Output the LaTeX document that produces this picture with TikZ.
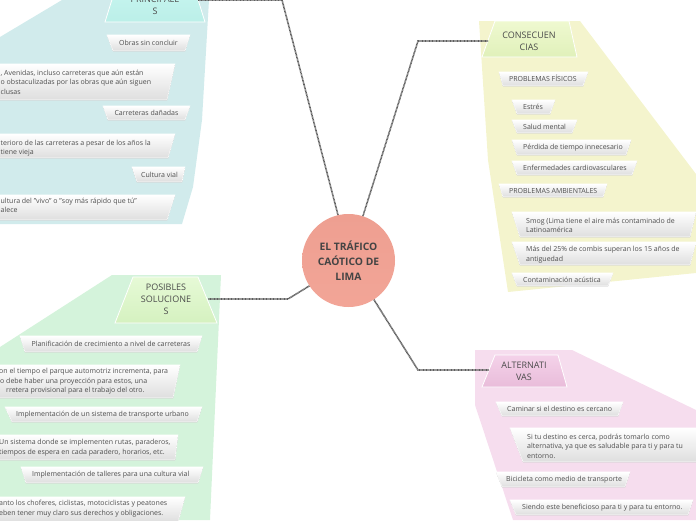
\documentclass[tikz,border=0pt]{standalone}
\usepackage{fontspec}
\setmainfont{Open Sans}
\definecolor{cyanbg}{HTML}{D1EBEC}
\definecolor{cyantopA}{HTML}{CBF7F2}
\definecolor{cyantopB}{HTML}{BBEFE8}
\definecolor{greenbg}{HTML}{D4F3DB}
\definecolor{greentopA}{HTML}{E6FAD6}
\definecolor{greentopB}{HTML}{D5F1C0}
\definecolor{yellowbg}{HTML}{F4F4CD}
\definecolor{yellowtopA}{HTML}{EFF9D0}
\definecolor{yellowtopB}{HTML}{E0F0BA}
\definecolor{pinkbg}{HTML}{F6DDEE}
\definecolor{pinktopA}{HTML}{F4D2E9}
\definecolor{pinktopB}{HTML}{E9BCDA}
\definecolor{tabbot}{HTML}{DEDEDE}
\definecolor{txt}{HTML}{4E4E4E}
\definecolor{ttxt}{HTML}{4A4A4A}
\definecolor{ctxt}{HTML}{444444}
\definecolor{connc}{HTML}{5E5E5E}
\definecolor{circtop}{HTML}{EE9F91}
\definecolor{circmid}{HTML}{FBAFA0}
\definecolor{circbot}{HTML}{F2A597}
\tikzset{
  conn/.style={draw=connc, line width=1.6pt, dash pattern=on 0.9pt off 0.5pt},
  tabbox/.style={top color=white, bottom color=tabbot, draw=white, line width=0.6pt},
  tabtext/.style={font=\fontsize{7}{9.5}\selectfont, text=txt, inner sep=0pt, align=left},
  topictext/.style={font=\fontsize{9}{12}\selectfont, text=ttxt, inner sep=0pt, align=center},
  topicbox/.style={draw=white, line width=0.8pt},
}
\begin{document}
\begin{tikzpicture}[x=1pt,y=-1pt]
\useasboundingbox (0,0) rectangle (696,520);
% background regions
\fill[cyanbg] (0,37) -- (62,0) -- (209,0) -- (202,120) -- (193,187) -- (182,224) -- (0,224) -- cycle;
\fill[greenbg] (0,347) -- (112,275) -- (221,275) -- (210,520) -- (0,520) -- cycle;
\fill[yellowbg] (479,21) -- (580,21) -- (696,174) -- (696,273) -- (508,292) -- (488,160) -- cycle;
\fill[pinkbg] (475,350) -- (572,350) -- (696,410) -- (696,520) -- (513,520) -- (475,405) -- cycle;

% central node
\node[circle, minimum size=93pt, inner sep=0pt, top color=circtop, middle color=circmid, bottom color=circbot,
      font=\bfseries\fontsize{10.3}{15}\selectfont, text=ctxt, align=center] (c) at (348.5,260.5) {EL TRÁFICO\\CAÓTICO DE\\LIMA};

% topic nodes
\path[topicbox, top color=cyantopA, bottom color=cyantopB] (119,-23) -- (191,-23) -- (205,22) -- (105,22) -- cycle;
\node[topictext] (princ) at (155,5.5) {PRINCIPALE\\S};
\coordinate (princR) at (198,0);

\path[topicbox, top color=yellowtopA, bottom color=yellowtopB] (495,21) -- (569,21) -- (577,57) -- (482,57) -- cycle;
\node[topictext] (cons) at (529,41) {CONSECUEN\\CIAS};
\coordinate (consL) at (488,41);

\path[topicbox, top color=pinktopA, bottom color=pinktopB] (495,355) -- (558,355) -- (567,387) -- (482,387) -- cycle;
\node[topictext] (alt) at (524,371.5) {ALTERNATI\\VAS};
\coordinate (altL) at (489,370);

\path[topicbox, top color=greentopA, bottom color=greentopB] (133,277) -- (198,277) -- (217,323) -- (115,323) -- cycle;
\node[topictext] (sol) at (166,299) {POSIBLES\\SOLUCIONE\\S};
\coordinate (solR) at (208,299);

% connectors
\coordinate (k1) at (282,0);
\coordinate (k2) at (418,41);
\coordinate (k3) at (418,370);
\coordinate (k4) at (288,299);
\draw[conn] (c.103) -- (k1) -- (princR);
\draw[conn] (c.72) -- (k2) -- (consL);
\draw[conn] (c.-57) -- (k3) -- (altL);
\draw[conn] (c.213) -- (k4) -- (solR);

% cyan tabs
\fill[tabbox] (107,35) -- (190,35) -- (185,51) -- (113,51) -- cycle;
\node[tabtext] (t1) at (148.5,43) {Obras sin concluir};
\fill[tabbox] (-5,64) -- (175,64) -- (167,100) -- (-5,100) -- cycle;
\node[tabtext, anchor=west] (t2) at (0.5,82) {, Avenidas, incluso carreteras que aún están\\o obstaculizadas por las obras que aún siguen\\clusas};
\fill[tabbox] (103,106) -- (190,106) -- (185,120) -- (108,120) -- cycle;
\node[tabtext] (t3) at (146.5,113) {Carreteras dañadas};
\fill[tabbox] (-5,134) -- (175,134) -- (168,158) -- (-5,158) -- cycle;
\node[tabtext, anchor=west] (t4) at (0.5,148) {terioro de las carreteras a pesar de los años la\\tiene vieja};
\fill[tabbox] (132,167) -- (185,167) -- (182,182) -- (137,182) -- cycle;
\node[tabtext] (t5) at (159.5,174.5) {Cultura vial};
\fill[tabbox] (-5,195) -- (175,195) -- (167,220) -- (-5,220) -- cycle;
\node[tabtext, anchor=west] (t6) at (0.5,205.5) {ultura del "vivo" o "soy más rápido que tú"\\alece};

% green tabs
\fill[tabbox] (20,336) -- (202,336) -- (197,352) -- (25,352) -- cycle;
\node[tabtext] (g1) at (111,344) {Planificación de crecimiento a nivel de carreteras};
\fill[tabbox] (-5,365) -- (180,365) -- (173,398) -- (-5,398) -- cycle;
\node[tabtext, anchor=west] (g2) at (-1,381.5) {on el tiempo el parque automotriz incrementa, para\\\hspace*{1pt}o debe haber una proyección para estos, una\\\hspace*{7pt}rretera provisional para el trabajo del otro.};
\fill[tabbox] (5,407) -- (202,407) -- (197,422) -- (12,422) -- cycle;
\node[tabtext, anchor=west] (g3) at (16,414.5) {Implementación de un sistema de transporte urbano};
\fill[tabbox] (-5,435) -- (178,435) -- (175,460) -- (-5,460) -- cycle;
\node[tabtext, anchor=west] (g4) at (-1,447.5) {Un sistema donde se implementen rutas, paraderos,\\tiempos de espera en cada paradero, horarios, etc.};
\fill[tabbox] (21,467) -- (203,467) -- (198,483) -- (26,483) -- cycle;
\node[tabtext, anchor=west] (g5) at (32,475) {Implementación de talleres para una cultura vial};
\fill[tabbox] (-5,497) -- (185,497) -- (178,522) -- (-5,522) -- cycle;
\node[tabtext, anchor=west] (g6) at (-1,508.5) {anto los choferes, ciclistas, motociclistas y peatones\\eben tener muy claro sus derechos y obligaciones.};

% yellow tabs
\fill[tabbox] (499,72) -- (588,72) -- (583,86) -- (503,86) -- cycle;
\node[tabtext, anchor=west] (y1) at (509,78.5) {PROBLEMAS FÍSICOS};
\fill[tabbox] (512,100) -- (555,100) -- (550,114) -- (517,114) -- cycle;
\node[tabtext, anchor=west] (y2) at (523,107) {Estrés};
\fill[tabbox] (512,120) -- (577,120) -- (572,133) -- (517,133) -- cycle;
\node[tabtext, anchor=west] (y3) at (523,127) {Salud mental};
\fill[tabbox] (512,140) -- (631,140) -- (626,155) -- (517,155) -- cycle;
\node[tabtext, anchor=west] (y4) at (523,148) {Pérdida de tiempo innecesario};
\fill[tabbox] (512,161) -- (637,161) -- (632,175) -- (517,175) -- cycle;
\node[tabtext, anchor=west] (y5) at (523,168) {Enfermedades cardiovasculares};
\fill[tabbox] (499,184) -- (607,184) -- (603,197) -- (503,197) -- cycle;
\node[tabtext, anchor=west] (y6) at (509,191) {PROBLEMAS AMBIENTALES};
\fill[tabbox] (512,212) -- (696,212) -- (690,237) -- (520,237) -- cycle;
\node[tabtext, anchor=west] (y7) at (526,225.5) {Smog (Lima tiene el aire más contaminado de\\Latinoamérica};
\fill[tabbox] (512,242) -- (696,242) -- (690,265) -- (520,265) -- cycle;
\node[tabtext, anchor=west] (y8) at (526,254.5) {Más del 25\% de combis superan los 15 años de\\antiguedad};
\fill[tabbox] (512,273) -- (613,273) -- (608,286) -- (517,286) -- cycle;
\node[tabtext, anchor=west] (y9) at (523,280) {Contaminación acústica};

% pink tabs
\fill[tabbox] (496,402) -- (623,402) -- (618,416) -- (502,416) -- cycle;
\node[tabtext, anchor=west] (p1) at (507,409) {Caminar si el destino es cercano};
\fill[tabbox] (510,428) -- (700,428) -- (700,462) -- (523,462) -- cycle;
\node[tabtext, anchor=west] (p2) at (527,446) {Si tu destino es cerca, podrás tomarlo como\\alternativa, ya que es saludable para ti y para tu\\entorno.};
\fill[tabbox] (496,472) -- (630,472) -- (625,487) -- (502,487) -- cycle;
\node[tabtext, anchor=west] (p3) at (506,479.5) {Bicicleta como medio de transporte};
\fill[tabbox] (510,500) -- (693,500) -- (688,515) -- (516,515) -- cycle;
\node[tabtext, anchor=west] (p4) at (522,507.5) {Siendo este beneficioso para ti y para tu entorno.};
\end{tikzpicture}
\end{document}
